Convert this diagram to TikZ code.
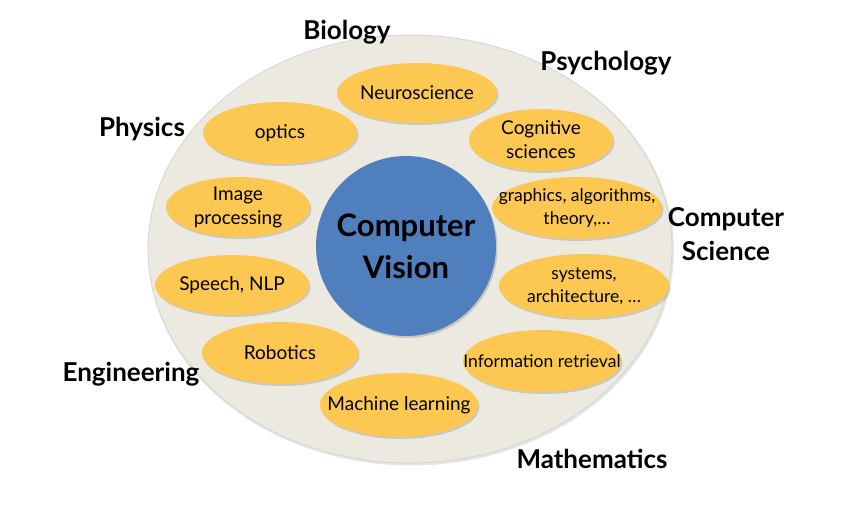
\documentclass[tikz,border=0pt]{standalone}
\usepackage{fontspec}
\setmainfont{Lato}
\usetikzlibrary{shapes.geometric}
\definecolor{outerfill}{RGB}{236,233,224}
\definecolor{outerline}{RGB}{215,212,204}
\definecolor{cvblue}{RGB}{79,128,189}
\definecolor{topic}{RGB}{252,200,82}
\newcommand\topicitem[7]{%
  \fill[black,opacity=0.14] (#2+1.5,#3+2) ellipse [x radius=#4, y radius=#5];
  \fill[topic] (#2,#3) ellipse [x radius=#4, y radius=#5];
  \node[topictext,#7] (#1) at (#2,#3) {#6};}
\begin{document}
\begin{tikzpicture}[x=1pt,y=-1pt,
  topictext/.style={inner sep=0pt,align=center,font=\fontsize{19}{24}\selectfont},
  smalltopic/.style={font=\fontsize{17.5}{23}\selectfont},
  fieldlabel/.style={font=\fontsize{26}{30}\selectfont\bfseries,align=center,inner sep=0pt}]
\useasboundingbox (0,0) rectangle (856,525);
% outer ellipse
\fill[black!20,opacity=0.5] (411,250.5) ellipse [x radius=263, y radius=215];
\node[draw=outerline,line width=0.8pt,fill=outerfill,ellipse,minimum width=524pt,minimum height=428pt,inner sep=0pt] (outer) at (410,249) {};
% centre
\fill[black,opacity=0.14] (407.5,248) circle [radius=90];
\node[circle,fill=cvblue,minimum size=180pt,inner sep=0pt,align=center,
  font=\fontsize{31}{42}\selectfont\bfseries] (cv) at (406,246) {Computer\\Vision};
% topics
\topicitem{neuro}{417}{93}{80}{30}{Neuroscience}{}
\topicitem{optics}{280}{133}{77}{31}{optics}{}
\topicitem{cog}{541}{140}{72}{31}{Cognitive\\sciences}{}
\topicitem{imgproc}{238}{207}{72}{30}{Image\\processing}{}
\topicitem{graphics}{577}{208}{85}{31}{graphics, algorithms,\\theory,\ldots}{smalltopic}
\topicitem{speech}{232}{285}{77}{30}{Speech, NLP}{}
\topicitem{systems}{584}{286}{85}{32}{systems,\\architecture, \ldots}{smalltopic}
\topicitem{ir}{542}{361}{79}{31}{Information retrieval}{smalltopic}
\topicitem{robotics}{280}{353}{78}{31}{Robotics}{}
\topicitem{ml}{399}{405}{79}{32}{Machine learning}{}
% field labels
\node[fieldlabel] (bio) at (347,32) {Biology};
\node[fieldlabel] (psy) at (606,63) {Psychology};
\node[fieldlabel] (phys) at (142,129) {Physics};
\node[fieldlabel,font=\fontsize{26}{34}\selectfont\bfseries] (cs) at (726,234) {Computer\\Science};
\node[fieldlabel] (eng) at (131,374) {Engineering};
\node[fieldlabel] (math) at (592,459) {Mathematics};
\end{tikzpicture}
\end{document}
